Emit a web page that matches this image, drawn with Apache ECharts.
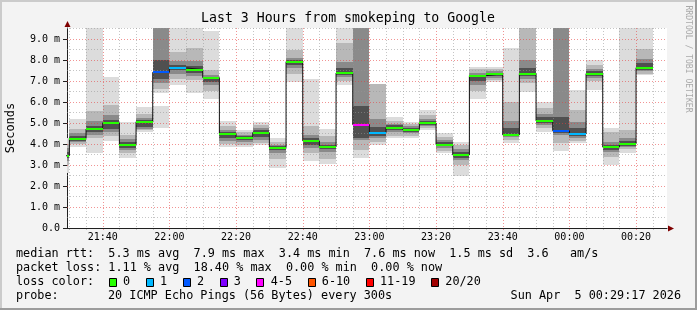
<!DOCTYPE html>
<html><head><meta charset="utf-8">
<script src="https://cdn.jsdelivr.net/npm/echarts@6/dist/echarts.min.js"></script>
<style>html,body{margin:0;padding:0;background:#f3f3f3;}#c{width:697px;height:310px;}</style>
</head><body><div id="c"></div>
<script>
// ---------------- data ----------------
const windowStart = '21:29:17';
const windowEnd = '00:29:17';
const stepMinutes = 5; // 300 s probe step
const intervalEnds = ['21:30','21:35','21:40','21:45','21:50','21:55','22:00','22:05','22:10','22:15','22:20','22:25',
  '22:30','22:35','22:40','22:45','22:50','22:55','23:00','23:05','23:10','23:15','23:20','23:25',
  '23:30','23:35','23:40','23:45','23:50','23:55','00:00','00:05','00:10','00:15','00:20','00:25'];
const medianRtt = [3.44,4.26,4.71,5.01,3.97,5.06,7.41,7.62,7.54,7.16,4.49,4.30,
  4.54,3.82,7.92,4.15,3.86,7.38,4.92,4.54,4.78,4.68,5.00,3.97,
  3.48,7.25,7.34,4.43,7.35,5.10,4.63,4.48,7.35,3.85,4.01,7.63];
const lostPings = [0,0,0,0,0,0,2,1,0,0,0,0, 0,0,0,0,0,0,4,1,0,0,0,0, 0,0,0,0,0,0,2,1,0,0,0,0];
// smoke bands (outer -> inner)
const band1Lo = [2.60,3.87,3.59,4.14,3.35,4.56,6.43,6.81,6.41,6.14,3.87,3.87,3.95,2.85,6.94,3.19,3.03,6.81,3.32,3.95,4.27,4.27,4.67,3.56,2.49,6.14,6.97,4.03,6.49,4.56,3.67,4.03,6.57,3.00,3.56,7.29];
const band1Hi = [4.30,5.19,9.80,7.20,5.05,5.78,9.80,9.80,9.80,9.38,5.10,4.65,5.03,4.30,9.80,7.08,4.71,9.80,9.80,6.84,5.30,5.06,5.62,4.51,4.11,7.68,7.68,8.59,9.80,6.02,9.80,6.57,8.00,4.78,9.80,9.80];
const band2Lo = [3.00,3.98,4.30,4.40,3.55,4.65,6.60,7.10,7.05,6.50,4.00,3.95,4.05,3.30,7.35,3.55,3.30,7.00,3.70,4.10,4.40,4.40,4.75,3.65,3.00,6.50,7.05,4.20,6.90,4.75,4.03,4.15,7.00,3.40,3.75,7.35];
const band2Hi = [4.00,4.70,5.55,5.85,4.45,5.45,9.80,8.40,8.56,7.50,4.85,4.55,4.90,4.10,8.45,4.85,4.40,8.80,9.80,6.84,5.10,4.95,5.40,4.35,3.95,7.55,7.55,6.00,9.80,5.70,9.80,5.60,7.75,4.55,4.65,8.50];
const band3Lo = [3.20,4.08,4.45,4.55,3.70,4.72,6.90,7.35,7.25,6.80,4.15,4.10,4.20,3.55,7.60,3.80,3.60,7.20,4.20,4.30,4.55,4.50,4.85,3.80,3.25,6.80,7.15,4.35,7.10,4.90,4.45,4.30,7.15,3.60,3.85,7.45];
const band3Hi = [3.80,4.50,5.10,5.40,4.25,5.25,9.80,7.95,7.95,7.30,4.65,4.45,4.75,3.95,8.10,4.45,4.10,7.90,9.80,5.20,4.95,4.85,5.20,4.20,3.75,7.40,7.45,5.10,8.00,5.45,9.80,5.05,7.55,4.10,4.30,8.05];
const band4Lo = [3.35,4.15,4.55,4.70,3.80,4.80,7.10,7.50,7.38,6.95,4.30,4.20,4.35,3.70,7.75,3.95,3.75,7.30,4.30,4.40,4.65,4.58,4.90,3.88,3.35,7.00,7.22,4.40,7.25,5.00,4.50,4.40,7.25,3.72,3.92,7.50];
const band4Hi = [3.60,4.38,4.85,5.15,4.10,5.15,8.00,7.75,7.70,7.20,4.55,4.38,4.65,3.90,8.00,4.30,3.95,7.60,5.80,4.80,4.88,4.78,5.10,4.10,3.62,7.30,7.40,4.75,7.60,5.30,5.30,4.75,7.45,3.95,4.15,7.85];
const strayEnds = ['22:00'];
const strayLo = [4.78];
const strayHi = [5.81];
const xTickLabels = ['21:40','22:00','22:20','22:40','23:00','23:20','23:40','00:00','00:20'];
const yTickValues = [0,1,2,3,4,5,6,7,8,9];
const yMax = 9.52;
const lossLimits = [0,1,2,3,5,10,19,20];
const lossLabels = ['0','1','2','3','4-5','6-10','11-19','20/20'];
const lossColors = ['#26ff00','#00b8ff','#0059ff','#7e00ff','#ff00ff','#ff5500','#ff0000','#a10000'];
const titleText = 'Last 3 Hours from smokeping to Google';
const statLine1 = 'median rtt:  5.3 ms avg  7.9 ms max  3.4 ms min  7.6 ms now  1.5 ms sd  3.6   am/s';
const statLine2 = 'packet loss: 1.11 % avg  18.40 % max  0.00 % min  0.00 % now';
const probeText = '20 ICMP Echo Pings (56 Bytes) every 300s';
const stampText = 'Sun Apr  5 00:29:17 2026';

// ---------------- helpers ----------------
function toMin(s){const p=s.split(':').map(Number);let h=p[0];if(h<12)h+=24;return (h-21)*60+p[1]+(p[2]||0)/60;}
function fmt(v){let t=Math.round(v)+21*60;let h=Math.floor(t/60)%24,m=t%60;return String(h).padStart(2,'0')+':'+String(m).padStart(2,'0');}
function lossColor(n){for(let k=0;k<lossLimits.length;k++){if(n<=lossLimits[k])return lossColors[k];}return lossColors[lossColors.length-1];}
const ends = intervalEnds.map(toMin);
const xMin = toMin(windowStart), xMax = toMin(windowEnd);
const MONO = 'DejaVu Sans Mono';

function bandData(lo,hi){return ends.map((e,i)=>[e-stepMinutes,e,lo[i],hi[i]]);}
const shades = ['#dcdcdc','#b8b8b8','#8a8a8a','#505050'];
function bandRender(color){
  return function(params,api){
    const cs=params.coordSys;
    const s=api.value(0),e=api.value(1),lo=api.value(2),hi=api.value(3);
    if(isNaN(lo)||isNaN(hi))return null;
    const p1=api.coord([s,hi]),p2=api.coord([e,lo]);
    const x1=Math.round(p1[0]),x2=Math.round(p2[0]),y1=Math.round(p1[1]),y2=Math.round(p2[1]);
    const r=echarts.graphic.clipRectByRect({x:x1,y:y1,width:x2-x1,height:y2-y1},{x:cs.x,y:cs.y,width:cs.width,height:cs.height});
    if(!r)return null;
    return {type:'rect',shape:r,style:{fill:color}};
  };
}
const series=[];
series.push({type:'custom',z:1,silent:true,data:strayEnds.map((t,i)=>[toMin(t)-stepMinutes,toMin(t),strayLo[i],strayHi[i]]),renderItem:bandRender(shades[0])});
[[band1Lo,band1Hi],[band2Lo,band2Hi],[band3Lo,band3Hi],[band4Lo,band4Hi]].forEach((b,k)=>{
  series.push({type:'custom',z:1,silent:true,data:bandData(b[0],b[1]),renderItem:bandRender(shades[k])});
});
// grid lines (drawn above smoke like rrdtool)
const majorMins = xTickLabels.map(toMin);
const gridData=[];
ends.forEach(v=>{if(!majorMins.some(m=>Math.abs(m-v)<1e-6))gridData.push([0,v,0]);});
majorMins.forEach(v=>gridData.push([0,v,1]));
yTickValues.forEach(v=>{gridData.push([1,v+0.5,0]);if(v>0)gridData.push([1,v,1]);});
series.push({type:'custom',z:2,silent:true,data:gridData,encode:{x:1,y:1},renderItem:function(params,api){
  const cs=params.coordSys;const o=api.value(0),v=api.value(1),mj=api.value(2);
  const stroke=mj?'rgba(230,60,60,0.55)':'rgba(150,150,150,0.55)';
  if(o===0){const x=Math.round(api.coord([v,0])[0])+0.5;if(x<cs.x+1||x>cs.x+cs.width)return null;
    return {type:'line',shape:{x1:x,y1:cs.y,x2:x,y2:cs.y+cs.height+2},style:{stroke:stroke,lineWidth:1,lineDash:[1,2]}};}
  const y=Math.round(api.coord([xMin,v])[1])+0.5;if(y<cs.y)return null;
  return {type:'line',shape:{x1:cs.x,y1:y,x2:cs.x+cs.width,y2:y},style:{stroke:stroke,lineWidth:1,lineDash:[1,2]}};
}});
// median step line
const stepData=ends.map((e,i)=>[e-stepMinutes,medianRtt[i]]);
stepData.push([ends[ends.length-1],medianRtt[medianRtt.length-1]]);
series.push({type:'line',z:3,silent:true,step:'end',symbol:'none',data:stepData,lineStyle:{color:'#111',width:1},clip:true});
// colored median segments
series.push({type:'custom',z:4,silent:true,data:ends.map((e,i)=>[e-stepMinutes,e,medianRtt[i],lostPings[i]]),renderItem:function(params,api){
  const cs=params.coordSys;const s=api.value(0),e=api.value(1),m=api.value(2),l=api.value(3);
  const p1=api.coord([s,m]),p2=api.coord([e,m]);
  const x1=Math.round(p1[0]),x2=Math.round(p2[0]),y=Math.round(p1[1]);
  const r=echarts.graphic.clipRectByRect({x:x1,y:y-1,width:x2-x1,height:2},{x:cs.x,y:cs.y,width:cs.width,height:cs.height});
  if(!r)return null;
  return {type:'rect',shape:r,style:{fill:lossColor(l)}};
}});

// legend graphics
const graphics=[];
graphics.push({type:'rect',shape:{x:0,y:0,width:697,height:2},style:{fill:'#cbcbcb'},silent:true});
graphics.push({type:'rect',shape:{x:0,y:0,width:2,height:310},style:{fill:'#cbcbcb'},silent:true});
graphics.push({type:'rect',shape:{x:0,y:308,width:697,height:2},style:{fill:'#9c9c9c'},silent:true});
graphics.push({type:'rect',shape:{x:695,y:0,width:2,height:310},style:{fill:'#9c9c9c'},silent:true});
graphics.push({type:'text',x:348,y:19,style:{text:titleText,font:'13.2px "'+MONO+'"',fill:'#000',textAlign:'center',textVerticalAlign:'middle'}});
graphics.push({type:'text',x:688,y:59,rotation:-Math.PI/2,style:{text:'RRDTOOL / TOBI OETIKER',font:'8.1px "'+MONO+'"',fill:'#a9a9a9',textAlign:'center',textVerticalAlign:'middle'}});
const lf='11.8px "'+MONO+'"';
graphics.push({type:'text',x:16,y:254,style:{text:statLine1,font:lf,fill:'#000',textVerticalAlign:'middle'}});
graphics.push({type:'text',x:16,y:268,style:{text:statLine2,font:lf,fill:'#000',textVerticalAlign:'middle'}});
graphics.push({type:'text',x:16,y:282,style:{text:'loss color:',font:lf,fill:'#000',textVerticalAlign:'middle'}});
graphics.push({type:'text',x:16,y:296,style:{text:'probe:',font:lf,fill:'#000',textVerticalAlign:'middle'}});
graphics.push({type:'text',x:108,y:296,style:{text:probeText,font:lf,fill:'#000',textVerticalAlign:'middle'}});
graphics.push({type:'text',x:681,y:296,style:{text:stampText,font:lf,fill:'#000',textAlign:'right',textVerticalAlign:'middle'}});
let lx=108.9;
lossLabels.forEach((lab,k)=>{
  graphics.push({type:'rect',shape:{x:Math.round(lx)+0.5,y:278.5,width:7,height:8},style:{fill:lossColors[k],stroke:'#000',lineWidth:1}});
  graphics.push({type:'text',x:lx+14.2,y:282,style:{text:lab,font:lf,fill:'#000',textVerticalAlign:'middle'}});
  lx=lx+14.2+lab.length*7.1+15.6;
});
// arrows
graphics.push({type:'polygon',shape:{points:[[67.5,21],[64.5,27],[70.5,27]]},style:{fill:'#7f0000'}});
graphics.push({type:'polygon',shape:{points:[[674,228.5],[668,225.5],[668,231.5]]},style:{fill:'#7f0000'}});

const chart=echarts.init(document.getElementById('c'),null,{renderer:'canvas'});
chart.setOption({
  animation:false,
  backgroundColor:'#f3f3f3',
  grid:{left:67,top:28,width:600,height:200,containLabel:false,outerBoundsMode:'none',show:true,backgroundColor:'#ffffff',borderWidth:0},
  xAxis:{type:'value',min:xMin,max:xMax,
    axisLine:{show:true,lineStyle:{color:'#202020',width:1}},
    axisTick:{show:false},
    splitLine:{show:false},
    axisLabel:{customValues:majorMins,formatter:fmt,fontFamily:MONO,fontSize:10,color:'#000',margin:4}},
  yAxis:{type:'value',min:0,max:yMax,interval:1,
    name:'Seconds',nameLocation:'middle',nameGap:50,nameTextStyle:{fontFamily:MONO,fontSize:12,color:'#000'},
    axisLine:{show:true,lineStyle:{color:'#202020',width:1}},
    axisTick:{show:true,length:4,customValues:yTickValues,lineStyle:{color:'#202020'}},
    splitLine:{show:false},
    axisLabel:{customValues:yTickValues,formatter:v=>v===0?'0.0':v.toFixed(1)+' m',fontFamily:MONO,fontSize:10,color:'#000',margin:7}},
  graphic:graphics,
  series:series
});
</script></body></html>
